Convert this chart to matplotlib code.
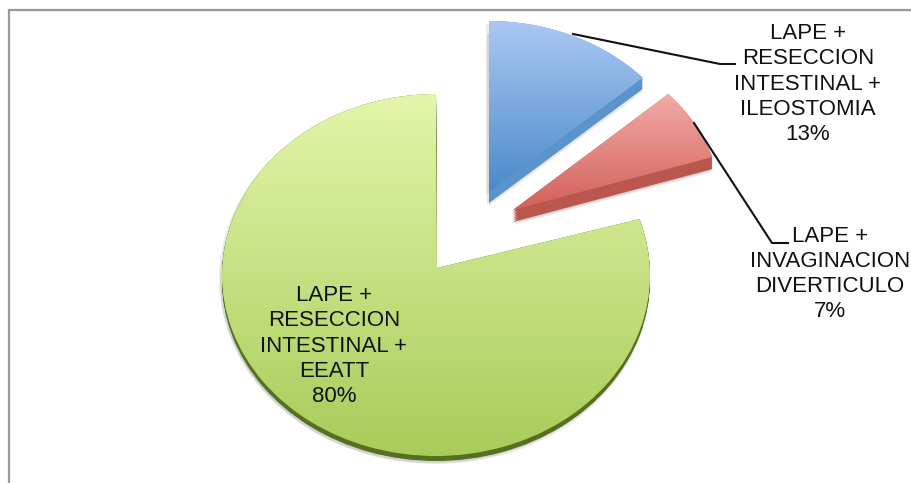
import numpy as np
import matplotlib
matplotlib.use("Agg")
import matplotlib.pyplot as plt
from matplotlib.path import Path
from matplotlib.patches import PathPatch
from matplotlib.colors import LinearSegmentedColormap

plt.rcParams['font.family'] = ['Liberation Sans', 'DejaVu Sans']

categories = ["LAPE +\nRESECCION\nINTESTINAL +\nILEOSTOMIA",
              "LAPE +\nINVAGINACION\nDIVERTICULO",
              "LAPE +\nRESECCION\nINTESTINAL +\nEEATT"]
values = [13, 7, 80]

# Per-slice geometry in pixels (perspective makes each slice's ellipse differ)
geom = [
    dict(c=(489, 201), r=(211, 180), apex=(489, 192), depth=11,
         top="#abc8f2", bot="#4a8acb", side="#5b93cb"),
    dict(c=(524, 209), r=(198, 168), apex=(513, 210), depth=12,
         top="#f3aca8", bot="#d2605a", side="#b9574f"),
    dict(c=(436, 275), r=(214, 181), apex=(437, 268), depth=5,
         top="#e3f5aa", bot="#a8cc5a", side="#55701f"),
]
label_pos = [(808, 84), (830, 274), (334, 346)]
leaders = [([573, 720, 735], [34, 64, 64]), ([694, 772, 788], [123, 243, 243])]

fig = plt.figure(figsize=(9.11, 4.83), dpi=100)
ax = fig.add_axes([0, 0, 1, 1])
ax.set_xlim(0, 911)
ax.set_ylim(483, 0)
ax.axis("off")

ax.plot([9, 9, 911], [483, 10, 10], color="#999999", lw=1.6, solid_joinstyle="miter", zorder=1)


def slice_path(g, a0, a1, dx=0, dy=0):
    # angles are clockwise from 12 o'clock, converted to screen coords
    base = Path.arc(90 - a1, 90 - a0)
    v = base.vertices.copy()
    x = g["c"][0] + g["r"][0] * v[:, 0] + dx
    y = g["c"][1] - g["r"][1] * v[:, 1] + dy
    verts = np.column_stack([x, y])
    ax_pt = (g["apex"][0] + dx, g["apex"][1] + dy)
    verts = np.vstack([[ax_pt], verts, [ax_pt], [ax_pt]])
    codes = [Path.MOVETO, Path.LINETO] + list(base.codes[1:]) + [Path.LINETO, Path.CLOSEPOLY]
    return Path(verts, codes)


total = sum(values)
start = 0
for val, g in zip(values, geom):
    a0 = start
    a1 = start + 360 * val / total
    start = a1
    # soft shadow
    for sx, sy, al in [(-3, 3, .10), (-2, g["depth"] + 2, .15), (0, g["depth"] + 3, .12)]:
        ax.add_patch(PathPatch(slice_path(g, a0, a1, sx, sy), fc="#555555", ec="none", alpha=al, zorder=2))
    # side wall
    for d in np.linspace(0, g["depth"], 8):
        ax.add_patch(PathPatch(slice_path(g, a0, a1, 0, d), fc=g["side"], ec="none", zorder=3))
    # top face with gradient
    p = slice_path(g, a0, a1)
    ext = p.get_extents()
    cmap = LinearSegmentedColormap.from_list("g", [g["top"], g["bot"]])
    im = ax.imshow(np.linspace(0, 1, 256).reshape(-1, 1), cmap=cmap, aspect="auto",
                   extent=[ext.x0, ext.x1, ext.y1, ext.y0], zorder=4, interpolation="bilinear")
    clip = PathPatch(p, transform=ax.transData, fc="none", ec="none")
    ax.add_patch(clip)
    im.set_clip_path(clip)

ax.set_xlim(0, 911)
ax.set_ylim(483, 0)

for xs, ys in leaders:
    ax.plot(xs, ys, color="#111111", lw=1.5, zorder=6)

for cat, val, (x, y) in zip(categories, values, label_pos):
    ax.text(x, y, f"{cat}\n{val}%", ha="center", va="center", fontsize=16,
            linespacing=1.27, color="#111111", zorder=7)

fig.savefig("out.png", dpi=100)
